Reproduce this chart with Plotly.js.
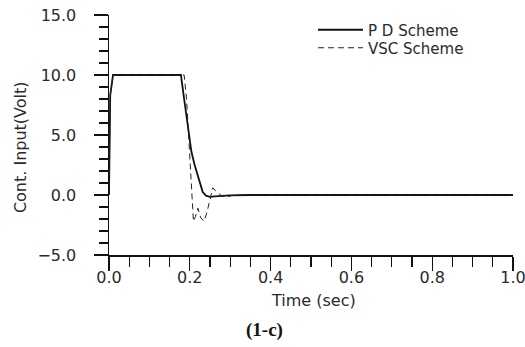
<!DOCTYPE html>
<html>
<head>
<meta charset="utf-8">
<script src="https://cdn.plot.ly/plotly-3.0.1.min.js"></script>
<style>
html,body{margin:0;padding:0;background:#fff;}
#chart{width:525px;height:347px;}
</style>
</head>
<body>
<div id="chart"></div>
<script>
// PD scheme (solid)
const pdTime  = [0, 0.003, 0.010, 0.178, 0.186, 0.196, 0.204, 0.212, 0.218, 0.225, 0.232, 0.240, 0.250, 0.262, 0.275, 0.300, 0.350, 0.500, 1.000];
const pdInput = [0, 8.3,   10.0,  10.0,  8.0,   5.4,   3.6,   2.5,   1.8,   0.9,   0.25,  -0.05, -0.15, -0.12, -0.08, -0.03, 0.0,   0.0,   0.0];
// VSC scheme (dashed)
const vscTime  = [0, 0.003, 0.010, 0.186, 0.192, 0.198, 0.203, 0.206, 0.209, 0.214, 0.220, 0.227, 0.235, 0.242, 0.248, 0.257, 0.265, 0.280, 0.292, 0.310, 0.350, 1.000];
const vscInput = [0, 8.3,   10.0,  10.0,  8.0,   4.6,   1.5,   -0.6,  -2.2,  -1.8,  -1.1,  -1.9,  -2.2,  -1.5,  -0.7,  0.6,   0.3,   -0.1,  -0.15, 0.0,   0.0,   0.0];
const seriesNames = ["P D Scheme", "VSC Scheme"];
const xTickVals = [0, 0.2, 0.4, 0.6, 0.8, 1.0];
const yTickVals = [-5, 0, 5, 10, 15];
const xTitle = "Time (sec)";
const yTitle = "Cont. Input(Volt)";
const caption = "(1-c)";

const txtColor = "#2a2a2a";
const tickFont = {family: "DejaVu Sans", size: 16, color: txtColor};

const traces = [
  {x: pdTime, y: pdInput, name: seriesNames[0], mode: "lines", type: "scatter", legend: "legend",
   line: {color: "#111", width: 1.8}},
  {x: vscTime, y: vscInput, name: seriesNames[1], mode: "lines", type: "scatter", legend: "legend2",
   line: {color: "#222", width: 1, dash: "6px,4px"}}
];

const legFont = {family: "DejaVu Sans", size: 15, color: txtColor};
const layout = {
  width: 525, height: 347,
  margin: {l: 109, r: 12, t: 15, b: 92},
  paper_bgcolor: "#fff", plot_bgcolor: "#fff",
  showlegend: true,
  legend: {x: 0.505, y: 0.9375, xanchor: "left", yanchor: "middle", bgcolor: "rgba(0,0,0,0)",
           font: legFont, itemwidth: 45},
  legend2: {x: 0.505, y: 0.8625, xanchor: "left", yanchor: "middle", bgcolor: "rgba(0,0,0,0)",
           font: legFont, itemwidth: 45},
  xaxis: {range: [0, 1], tickvals: xTickVals, tickformat: ".1f", showgrid: false, zeroline: false,
          showline: true, linecolor: "#111", linewidth: 1.5, ticks: "outside", ticklen: 14, tickwidth: 1.3,
          tickcolor: "#111", tickfont: tickFont, ticklabeloverflow: "allow", ticklabelstandoff: -7,
          minor: {dtick: 0.05, ticks: "outside", ticklen: 10, tickwidth: 1.2, tickcolor: "#111", showgrid: false}},
  yaxis: {range: [-5, 15], tickvals: yTickVals, tickformat: ".1f", showgrid: false, zeroline: false,
          showline: true, linecolor: "#111", linewidth: 1.5, ticks: "outside", ticklen: 14, tickwidth: 1.3,
          tickcolor: "#111", tickfont: tickFont, ticklabelstandoff: 14,
          minor: {dtick: 1, ticks: "outside", ticklen: 9, tickwidth: 1.2, tickcolor: "#111", showgrid: false}},
  annotations: [
    {text: yTitle, xref: "paper", yref: "paper", x: -0.220, y: 0.45, textangle: -90,
     xanchor: "center", yanchor: "middle",
     showarrow: false, font: {family: "DejaVu Sans", size: 16, color: txtColor}},
    {text: xTitle, xref: "paper", yref: "paper", x: 0.507, y: -0.1875,
     xanchor: "center", yanchor: "middle",
     showarrow: false, font: {family: "DejaVu Sans", size: 16, color: txtColor}},
    {text: "<b>" + caption + "</b>", xref: "paper", yref: "paper", x: 0.386, y: -0.3125,
     xanchor: "center", yanchor: "middle",
     showarrow: false, font: {family: "Liberation Serif", size: 19, color: "#111"}}
  ]
};

Plotly.newPlot("chart", traces, layout, {displayModeBar: false, staticPlot: true});
</script>
</body>
</html>
